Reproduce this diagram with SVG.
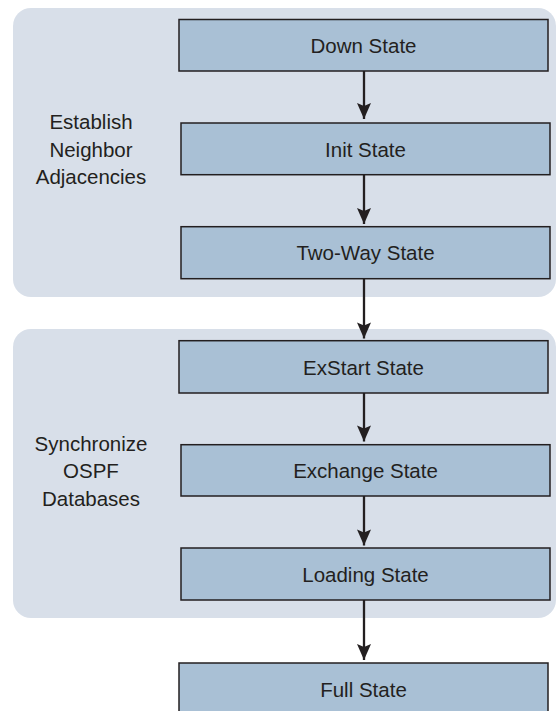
<svg xmlns="http://www.w3.org/2000/svg" width="558" height="711" viewBox="0 0 558 711">
<defs>
<style>
.panel{fill:#d8dfe9;}
.box{fill:#a9c0d5;stroke:#231f20;stroke-width:1.5;}
.t{font-family:"Liberation Sans",Arial,Helvetica,sans-serif;font-size:20.5px;fill:#231f20;text-anchor:middle;}
.conn{stroke:#231f20;stroke-width:2.3;fill:none;}
</style>
<marker id="ah" markerUnits="userSpaceOnUse" viewBox="-8 -17 16 18" refX="0" refY="0" markerWidth="16" markerHeight="18" orient="auto-start-reverse">
<path d="M0,0 L-7,-16 L0,-13 L7,-16 Z" fill="#231f20" transform="rotate(-90)"/>
</marker>
</defs>
<rect width="558" height="711" fill="#ffffff"/>
<g id="panel-establish">
<rect class="panel" x="13" y="8" width="543" height="289" rx="18"/>
<text class="t" x="91" y="129">Establish</text>
<text class="t" x="91" y="156.5">Neighbor</text>
<text class="t" x="91" y="184">Adjacencies</text>
</g>
<g id="panel-sync">
<rect class="panel" x="13" y="329" width="543" height="289" rx="18"/>
<text class="t" x="91" y="450.5">Synchronize</text>
<text class="t" x="91" y="478">OSPF</text>
<text class="t" x="91" y="505.5">Databases</text>
</g>
<g id="connectors">
<path class="conn" d="M364,71 V119"/>
<path class="conn" d="M364,174.7 V224"/>
<path class="conn" d="M364,278.7 V338.5"/>
<path class="conn" d="M364,393 V441.5"/>
<path class="conn" d="M364,496 V545.5"/>
<path class="conn" d="M364,600 V660"/>
<g fill="#231f20">
<path d="M364,119 L357,103 L364,106 L371,103 Z"/>
<path d="M364,224 L357,208 L364,211 L371,208 Z"/>
<path d="M364,338.5 L357,322.5 L364,325.5 L371,322.5 Z"/>
<path d="M364,441.5 L357,425.5 L364,428.5 L371,425.5 Z"/>
<path d="M364,545.5 L357,529.5 L364,532.5 L371,529.5 Z"/>
<path d="M364,660 L357,644 L364,647 L371,644 Z"/>
</g>
</g>
<g id="down">
<rect class="box" x="179" y="19.5" width="369" height="51.5"/>
<text class="t" x="363.5" y="52.5">Down State</text>
</g>
<g id="init">
<rect class="box" x="181" y="123" width="369" height="51.7"/>
<text class="t" x="365.5" y="156.5">Init State</text>
</g>
<g id="twoway">
<rect class="box" x="181" y="226.7" width="369" height="52"/>
<text class="t" x="365.5" y="260">Two-Way State</text>
</g>
<g id="exstart">
<rect class="box" x="179" y="340.7" width="369" height="52.3"/>
<text class="t" x="363.5" y="374.5">ExStart State</text>
</g>
<g id="exchange">
<rect class="box" x="181" y="444.7" width="369" height="51.3"/>
<text class="t" x="365.5" y="478">Exchange State</text>
</g>
<g id="loading">
<rect class="box" x="181" y="548" width="369" height="52"/>
<text class="t" x="365.5" y="581.5">Loading State</text>
</g>
<g id="full">
<rect class="box" x="179" y="663" width="369" height="54"/>
<text class="t" x="363.5" y="696.5">Full State</text>
</g>
</svg>
